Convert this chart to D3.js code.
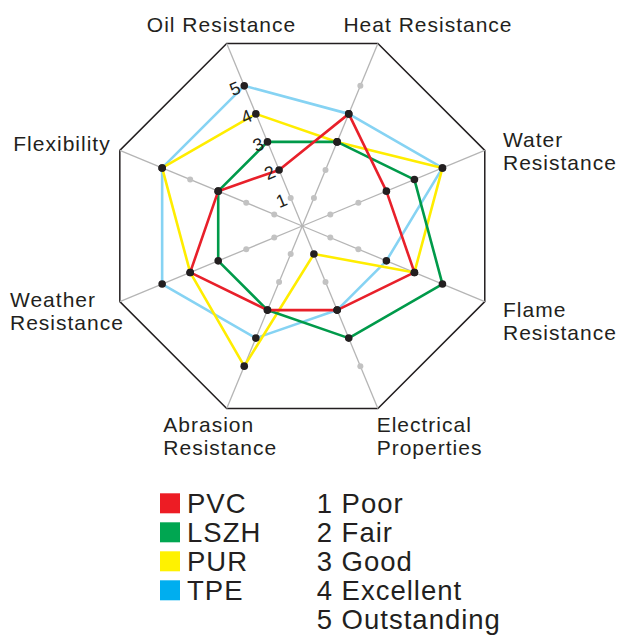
<!DOCTYPE html>
<html>
<head>
<meta charset="utf-8">
<script src="https://cdn.jsdelivr.net/npm/d3@7"></script>
<style>
  body { margin: 0; background: #fff; }
  text { font-family: "Liberation Sans", Arial, sans-serif; fill: #231f20; }
</style>
</head>
<body>
<div id="chart"></div>
<script>
// Data
const axes = ["Oil Resistance", "Heat Resistance", "Water Resistance", "Flame Resistance",
              "Electrical Properties", "Abrasion Resistance", "Weather Resistance", "Flexibility"];
const materials = ["PVC", "LSZH", "PUR", "TPE"];
const pvc  = [2, 4, 3, 4, 3, 3, 4, 3];
const lszh = [3, 3, 4, 5, 4, 3, 3, 3];
const pur  = [4, 3, 5, 4, 1, 5, 4, 5];
const tpe  = [5, 4, 5, 3, 3, 4, 5, 5];
const ticks = [1, 2, 3, 4, 5];
const ratings = ["Poor", "Fair", "Good", "Excellent", "Outstanding"];

const width = 622;
const height = 636;
const cx = 302.3, cy = 226;

const lineColors   = {PVC: "#e8202a", LSZH: "#009a4a", PUR: "#ffed00", TPE: "#86d3f3"};
const legendColors = {PVC: "#ed1c24", LSZH: "#00a651", PUR: "#fff200", TPE: "#00aeef"};

const series = [
    {name: "TPE", values: tpe},
    {name: "PUR", values: pur},
    {name: "LSZH", values: lszh},
    {name: "PVC", values: pvc}
];

const svg = d3.select("#chart")
    .append("svg")
    .attr("width", width)
    .attr("height", height);

// radial scale: value 5 sits at ~151.7px, octagon rim at 6.51
const r = d3.scaleLinear().domain([0, 5]).range([0, 151.7]);
const rimValue = 6.51;
const angle = i => -Math.PI / 8 + i * Math.PI / 4;
const px = (i, v) => r(v) * Math.sin(angle(i));
const py = (i, v) => -r(v) * Math.cos(angle(i));

const g = svg.append("g").attr("transform", `translate(${cx},${cy})`);

// outer octagon
const radial = d3.lineRadial()
    .angle((d, i) => angle(i))
    .radius(d => r(d))
    .curve(d3.curveLinearClosed);

g.append("path")
    .attr("d", radial(axes.map(() => rimValue)))
    .attr("fill", "none")
    .attr("stroke", "#231f20")
    .attr("stroke-width", 1.5);

// spokes
g.append("g").selectAll("line")
    .data(axes)
    .enter().append("line")
    .attr("x1", 0).attr("y1", 0)
    .attr("x2", (d, i) => px(i, rimValue))
    .attr("y2", (d, i) => py(i, rimValue))
    .attr("stroke", "#b5b5b5")
    .attr("stroke-width", 1.3);

// grey dots on every spoke
g.append("g").selectAll("circle")
    .data(d3.cross(d3.range(axes.length), ticks))
    .enter().append("circle")
    .attr("cx", d => px(d[0], d[1]))
    .attr("cy", d => py(d[0], d[1]))
    .attr("r", 3)
    .attr("fill", "#c2c2c2");

// series polygons
g.append("g").selectAll("path")
    .data(series)
    .enter().append("path")
    .attr("d", d => radial(d.values))
    .attr("fill", "none")
    .attr("stroke", d => lineColors[d.name])
    .attr("stroke-width", 2.6)
    .attr("stroke-linejoin", "round");

// data dots
g.append("g").selectAll("circle")
    .data(series.flatMap(s => s.values.map((v, i) => ({i, v}))))
    .enter().append("circle")
    .attr("cx", d => px(d.i, d.v))
    .attr("cy", d => py(d.i, d.v))
    .attr("r", 3.8)
    .attr("fill", "#231f20");

// tick numbers along the Oil Resistance spoke
const rot = angle(0) * 180 / Math.PI;
g.append("g").selectAll("text")
    .data(ticks)
    .enter().append("text")
    .attr("transform", d => {
        const ox = px(0, d) - 9.6 * Math.cos(angle(0)) + 1.4 * Math.sin(angle(0));
        const oy = py(0, d) - 9.6 * Math.sin(angle(0)) - 1.4 * Math.cos(angle(0));
        return `translate(${ox},${oy}) rotate(${rot})`;
    })
    .attr("text-anchor", "middle")
    .attr("dy", "0.36em")
    .style("font-size", "18px")
    .text(d => d);

// axis labels
const labelLayout = [
    {x: 221.5, y: [31.7], anchor: "middle"},
    {x: 428, y: [31.7], anchor: "middle"},
    {x: 503, y: [146.7, 170], anchor: "start"},
    {x: 503, y: [316.7, 340], anchor: "start"},
    {x: 376.7, y: [431.7, 455], anchor: "start"},
    {x: 163.3, y: [431.7, 455], anchor: "start"},
    {x: 10, y: [306.7, 330], anchor: "start"},
    {x: 13.3, y: [150.7], anchor: "start"}
];

svg.append("g").selectAll("text")
    .data(axes)
    .enter().append("text")
    .attr("text-anchor", (d, i) => labelLayout[i].anchor)
    .style("font-size", "21px")
    .style("letter-spacing", "1px")
    .each(function(d, i) {
        const lay = labelLayout[i];
        const words = lay.y.length > 1 ? [d.slice(0, d.lastIndexOf(" ")), d.slice(d.lastIndexOf(" ") + 1)] : [d];
        d3.select(this).selectAll("tspan")
            .data(words)
            .enter().append("tspan")
            .attr("x", lay.x)
            .attr("y", (w, j) => lay.y[j])
            .text(w => w);
    });

// legend: materials
const legend = svg.append("g").attr("transform", "translate(160,513.3)");
const rowStep = 29;

const matRows = legend.selectAll("g.mat")
    .data(materials)
    .enter().append("g")
    .attr("class", "mat")
    .attr("transform", (d, i) => `translate(0,${i * rowStep})`);

matRows.append("rect")
    .attr("x", 0).attr("y", -20)
    .attr("width", 20).attr("height", 20)
    .attr("fill", d => legendColors[d]);

matRows.append("text")
    .attr("x", 27)
    .style("font-size", "27.5px")
    .style("letter-spacing", "1px")
    .text(d => d);

// legend: rating scale
legend.selectAll("text.rate")
    .data(ratings)
    .enter().append("text")
    .attr("class", "rate")
    .attr("x", 156.7)
    .attr("y", (d, i) => i * rowStep)
    .style("font-size", "27.5px")
    .style("letter-spacing", "1px")
    .text((d, i) => `${ticks[i]} ${d}`);
</script>
</body>
</html>
